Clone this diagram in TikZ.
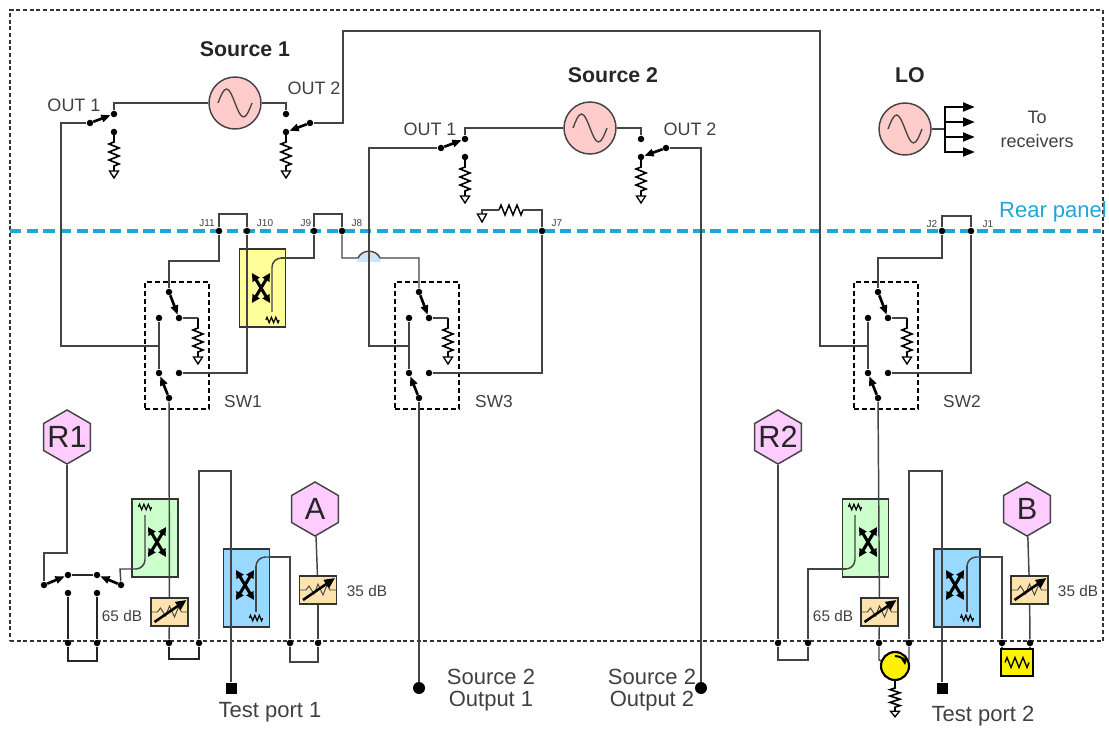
\documentclass[tikz,border=0pt]{standalone}
\usepackage{fontspec}
\setmainfont{Liberation Sans}
\usetikzlibrary{arrows.meta,shapes.geometric}
\def\px{0.75pt}
\definecolor{wirecol}{HTML}{444444}
\definecolor{txtcol}{HTML}{404040}
\definecolor{rearcol}{HTML}{1EA7D8}
\definecolor{srccol}{HTML}{FFCCCC}
\definecolor{hexcol}{HTML}{FFCCFF}
\definecolor{grncol}{HTML}{CCFFCC}
\definecolor{blucol}{HTML}{99D9FF}
\definecolor{yelcol}{HTML}{FFFF99}
\definecolor{attcol}{HTML}{FFE3AE}
\definecolor{hopcol}{HTML}{CFE4F8}
\tikzset{
  wire/.style={draw=wirecol,line width=1.1pt},
  heavy/.style={draw=black!85,line width=1.6pt},
  arm/.style={draw=black,line width=2pt,-{Triangle[length=7pt,width=5.5pt]}},
  feed/.style={draw=black,line width=2pt,-{Triangle[length=9pt,width=6.5pt]}},
  jdot/.style={circle,fill=black,inner sep=0pt,minimum size=6.5*\px},
  bigdot/.style={circle,fill=black,inner sep=0pt,minimum size=12*\px},
  portsq/.style={rectangle,fill=black,inner sep=0pt,minimum size=11*\px},
  srcnode/.style={circle,draw=wirecol,line width=1.1pt,fill=srccol,minimum size=52*\px,inner sep=0pt},
  hexnode/.style={regular polygon,regular polygon sides=6,shape border rotate=30,draw=wirecol,line width=1.1pt,fill=hexcol,
    minimum size=54*\px,inner sep=0pt},
  hextxt/.style={text=black!85,font=\fontsize{23}{26}\selectfont,inner sep=0pt},
  coupler/.style={rectangle,draw=black!80,line width=1.1pt,fill=#1,minimum width=46*\px,minimum height=78*\px,inner sep=0pt},
  attbox/.style={rectangle,draw=black!80,line width=1pt,fill=attcol,minimum width=37*\px,minimum height=28*\px,inner sep=0pt},
  swbox/.style={rectangle,draw=black,line width=1.6pt,dash pattern=on 4pt off 2pt,minimum width=64*\px,minimum height=127*\px,inner sep=0pt},
  lbl/.style={text=txtcol,font=\fontsize{13.5}{16}\selectfont,align=center,inner sep=0pt},
  small/.style={text=txtcol,font=\fontsize{11.5}{14}\selectfont,inner sep=0pt},
  jlbl/.style={text=txtcol,font=\fontsize{7.5}{9}\selectfont,inner sep=0pt},
  big/.style={text=txtcol,font=\fontsize{16.5}{16.5}\selectfont,align=center,inner sep=0pt},
  head/.style={text=black!85,font=\bfseries\fontsize{16}{19}\selectfont,inner sep=0pt},
  zig/.pic={\draw (-12,0) -- (-10,-5) -- (-6,5) -- (-2,-5) -- (2,5) -- (6,-5) -- (10,5) -- (12,0);},
  resgnd/.pic={\draw[black,line width=1.2pt] (0,0) -- (0,10) -- (-5,12) -- (5,16) -- (-5,20) -- (5,24) -- (-5,28) -- (5,32) -- (0,34) -- (0,39);
    \draw[black,line width=1pt,fill=white] (-4.5,39) -- (4.5,39) -- (0,46) -- cycle;},
  sinew/.pic={\draw[wirecol,line width=1pt] (-17,0) sin (-8.5,-14) cos (0,0) sin (8.5,14) cos (17,0);},
  xcross/.pic={\draw[black,line width=2.3pt,{Triangle[length=6pt,width=6pt]}-{Triangle[length=6pt,width=6pt]}] (-9,-15) -- (9,15);
    \draw[black,line width=2.3pt,{Triangle[length=6pt,width=6pt]}-{Triangle[length=6pt,width=6pt]}] (9,-15) -- (-9,15);},
  attsym/.pic={\draw[wirecol,line width=0.7pt] (-18,0) -- (-12,0) -- (-9,-4) -- (-4,4) -- (0,-6) -- (5,5) -- (9,-5) -- (12,0) -- (18,0);
    \draw[black,line width=1.9pt,-{Triangle[length=8pt,width=7pt]}] (-15,10) -- (17,-12);},
}
\begin{document}
\begin{tikzpicture}[x=0.75pt,y=-0.75pt]
  \useasboundingbox (0,0) rectangle (1109,730);
  \node[draw=black!80,line width=1.2pt,dash pattern=on 3pt off 2pt,minimum width=1093*\px,minimum height=631*\px,inner sep=0pt] (frame) at (556.5,325.5) {};
  % rear panel
  \coordinate (rearl) at (10,231);
  \coordinate (rearr) at (1101,231);
  \draw[draw=rearcol,line width=2.4pt,dash pattern=on 8.5pt off 4pt] (rearl) -- (rearr);
  \node[big,text=rearcol] (reartxt) at (1053,212) {Rear panel};
  % couplers and other boxes
  \node[coupler=yelcol] (cpy) at (262.5,288) {};
  \node[coupler=grncol] (cpg1) at (155,538) {};
  \node[coupler=grncol] (cpg2) at (865.5,538) {};
  \node[coupler=blucol] (cpb1) at (246.5,588) {};
  \node[coupler=blucol] (cpb2) at (957,588) {};
  \pic at (261,288) {xcross};
  \pic at (157,542) {xcross};
  \pic at (868,542) {xcross};
  \pic at (245,585) {xcross};
  \pic at (955,585) {xcross};
  \pic[scale=0.55,line width=0.9pt] at (272.5,320) {zig};
  \pic[scale=0.55,line width=0.9pt] at (145,507) {zig};
  \pic[scale=0.55,line width=0.9pt] at (855,507) {zig};
  \pic[scale=0.55,line width=0.9pt] at (256,618) {zig};
  \pic[scale=0.55,line width=0.9pt] at (967,618) {zig};
  \node[attbox] (att1) at (169.5,612) {};
  \node[attbox] (att2) at (318,590) {};
  \node[attbox] (att3) at (879.5,612) {};
  \node[attbox] (att4) at (1029.5,590) {};
  \foreach \n in {1,2,3,4} \pic at (att\n) {attsym};
  \node[small] (db1) at (122,616) {65 dB};
  \node[small] (db2) at (367,591) {35 dB};
  \node[small] (db3) at (833,616) {65 dB};
  \node[small] (db4) at (1078,591) {35 dB};
  % sources
  \node[srcnode] (src1) at (235,103) {};
  \node[srcnode] (src2) at (590,128) {};
  \node[srcnode] (srclo) at (905,129) {};
  \foreach \n in {src1,src2,srclo} \pic at (\n) {sinew};
  \node[head] (src1txt) at (245,49) {Source 1};
  \node[head] (src2txt) at (613,75) {Source 2};
  \node[head] (lotxt) at (910,75) {LO};
  \node[lbl] (out1a) at (74,105) {OUT 1};
  \node[lbl] (out2a) at (314,88) {OUT 2};
  \node[lbl] (out1b) at (430,129) {OUT 1};
  \node[lbl] (out2b) at (690,129) {OUT 2};
  \node[lbl] (totxt) at (1037,129.5) {To\\[1.5pt]receivers};
  % source switches
  \foreach \n/\x/\y in {a/114/114,b/114/132,c/90/123,d/286/114,e/286/132,f/310/123,g/465/139,h/465/157,i/441/148,k/641/139,l/641/157,m/666/148}
    \node[jdot] (o\n) at (\x,\y) {};
  \foreach \n in {b,e,h,l} \pic at (o\n) {resgnd};
  \draw[arm] (oc) -- (oa);
  \draw[arm] (of) -- (oe);
  \draw[arm] (oi) -- (og);
  \draw[arm] (om) -- (ol);
  \draw[wire] (src1) -| (oa);
  \draw[wire] (src1) -| (od);
  \draw[wire] (src2) -| (og);
  \draw[wire] (src2) -| (ok);
  % switch boxes
  \foreach \k/\d in {1/0,3/250,2/709}{
    \node[swbox] (sw\k) at (177+\d,345.5) {};
    \node[jdot] (t\k) at (169+\d,292) {};
    \node[jdot] (u\k) at (179+\d,318) {};
    \node[jdot] (v\k) at (159+\d,318) {};
    \node[jdot] (w\k) at (159+\d,373) {};
    \node[jdot] (y\k) at (179+\d,373) {};
    \node[jdot] (z\k) at (169+\d,398) {};
    \coordinate (r\k) at (198+\d,318);
    \coordinate (n\k) at (159+\d,346);
    \pic at (r\k) {resgnd};
    \draw[arm] (t\k) -- (u\k);
    \draw[arm] (z\k) -- (w\k);
    \draw[wire] (u\k) -- (r\k);
    \draw[wire] (v\k) -- (w\k);
  }
  \node[lbl,font=\fontsize{13}{16}\selectfont] (sw1txt) at (243,402) {SW1};
  \node[lbl,font=\fontsize{13}{16}\selectfont] (sw3txt) at (494,402) {SW3};
  \node[lbl,font=\fontsize{13}{16}\selectfont] (sw2txt) at (962,402) {SW2};
  % rear panel jacks
  \foreach \n/\x in {11/219,10/247,9/314,8/342,7/542,2/942,1/971}
    \node[jdot] (j\n) at (\x,231) {};
  \node[jlbl] (j11txt) at (207,223) {J11};
  \node[jlbl] (j10txt) at (265,223) {J10};
  \node[jlbl] (j9txt) at (306,223) {J9};
  \node[jlbl] (j8txt) at (357,223) {J8};
  \node[jlbl] (j7txt) at (557,223) {J7};
  \node[jlbl] (j2txt) at (932,224) {J2};
  \node[jlbl] (j1txt) at (988,224) {J1};
  \draw[wire] (j11) -- (219,214) -- (247,214) -- (j10);
  \draw[wire] (j9) -- (314,214) -- (342,214) -- (j8);
  \draw[wire] (j2) -- (942,216) -- (971,216) -- (j1);
  \draw[wire] (j11) -- (219,261) -| (t1);
  \draw[wire] (j10) |- (y1);
  \draw[wire] (j2) -- (942,258) -| (t2);
  \draw[wire] (j1) |- (y2);
  \draw[wire] (j7) |- (y3);
  % hop of J8 over the source 2 line
  \coordinate (hopl) at (358,258);
  \coordinate (hopr) at (380,258);
  \fill[hopcol] (357,262) .. controls (361,249) and (376,249) .. (381,262) -- cycle;
  \draw[wire] (j8) -- (342,258) -- (hopl) .. controls (362,249) and (376,249) .. (hopr) -| (t3);
  % J7 load
  \coordinate (r7a) at (523,210);
  \coordinate (r7b) at (499,210);
  \coordinate (r7c) at (482,214);
  \pic[black,line width=1.1pt] at (511,210) {zig};
  \draw[wire] (j7) |- (r7a);
  \draw[wire] (r7b) -| (r7c);
  \draw[black,line width=1pt,fill=white] (r7c) ++(-4.5,0) -- ++(9,0) -- ++(-4.5,8) -- cycle;
  % source outputs to the switches
  \node[bigdot] (s2o1) at (419,688) {};
  \node[bigdot] (s2o2) at (701,688) {};
  \draw[wire] (oc) -- (61,123) -- (61,346) -- (n1);
  \draw[wire] (of) -- (343,123) -- (343,31) -- (820,31) -- (820,346) -- (n2);
  \draw[wire] (oi) -- (369,148) -- (369,346) -- (n3);
  \draw[wire] (om) -| (s2o2);
  \draw[wire] (z3) -- (s2o1);
  \node[big] (s2o1txt) at (491,690) {Source 2\\Output 1};
  \node[big] (s2o2txt) at (652,690) {Source 2\\Output 2};
  % LO feed
  \coordinate (bus) at (945,129);
  \draw[wire,line width=1.2pt] (srclo) -- (bus);
  \draw[draw=black,line width=2pt] (945,106) -- (945,153);
  \foreach \a in {107,122,137,152}{
    \coordinate (to\a) at (975,\a);
    \draw[feed] (bus |- to\a) -- (to\a);
  }
  % coupled lines
  \draw[wire] (j9) -- (314,258) -- (281,258);
  \draw[wire,rounded corners=7] (281,258) -- (272,258) -- (272,312);
  \node[hexnode] (hr1) at (67,437) {};
  \node[hexnode] (hr2) at (778,437) {};
  \node[hexnode] (ha) at (315,509) {};
  \node[hexnode] (hb) at (1027,509) {};
  \node[hextxt] (hr1txt) at (67,437) {R1};
  \node[hextxt] (hr2txt) at (778,437) {R2};
  \node[hextxt] (hatxt) at (315,509) {A};
  \node[hextxt] (hbtxt) at (1027,509) {B};
  % port 1 side
  \foreach \n/\x/\y in {p1/44/585,p2/68/575,p3/97/575,p4/121/585,q1/68/593,q2/97/593,q3/68/643,q4/97/643,d1/169/643,d2/199/643,d3/290/643,d4/318/643}
    \node[jdot] (\n) at (\x,\y) {};
  \node[portsq] (port1) at (231,688) {};
  \draw[wire] (hr1) -- (67,553) -- (44,553) -- (p1);
  \draw[arm] (p1) -- (p2);
  \draw[arm] (p4) -- (p3);
  \draw[heavy] (p2) -- (p3);
  \draw[heavy] (q1) -- (q3) -- (68,661) -- (97,661) -- (q4) -- (q2);
  \draw[wire] (p4) -- (120,569) -- (135,569);
  \draw[wire,rounded corners=7] (135,569) -- (145,569) -- (145,515);
  \draw[wire] (z1) -- (att1);
  \draw[wire] (att1) -- (d1);
  \draw[heavy] (d1) -- (169,659) -- (199,659) -- (d2);
  \draw[wire] (d2) -- (199,471) -- (231,471) -- (port1);
  \draw[wire] (256,612) -- (256,566);
  \draw[wire,rounded corners=7] (256,566) -- (256,557) -- (270,557);
  \draw[wire] (270,557) -- (290,557) -- (d3);
  \draw[wire] (d3) -- (290,662) -- (318,662) -- (d4);
  \draw[wire] (d4) -- (att2);
  \draw[wire] (att2) -- (ha);
  \node[big] (port1txt) at (270,712) {Test port 1};
  % port 2 side
  \foreach \n/\x/\y in {e1/778/643,e2/808/643,e3/879/643,e4/909/643,e5/1002/643,e6/1030/643}
    \node[jdot] (\n) at (\x,\y) {};
  \node[portsq] (port2) at (942,688) {};
  \draw[wire] (hr2) -- (e1);
  \draw[wire] (e1) -- (778,660) -- (808,660) -- (e2);
  \draw[wire] (e2) -- (808,569) -- (846,569);
  \draw[wire,rounded corners=7] (846,569) -- (855,569) -- (855,515);
  \draw[wire] (z2) -- (att3);
  \draw[wire] (att3) -- (e3);
  \draw[wire] (e4) -- (909,471) -- (942,471) -- (port2);
  \draw[wire] (967,612) -- (967,566);
  \draw[wire,rounded corners=7] (967,566) -- (967,557) -- (981,557);
  \draw[wire] (981,557) -- (1002,557) -- (e5);
  \draw[wire] (e6) -- (att4);
  \draw[wire] (att4) -- (hb);
  % circulator and load
  \node[circle,draw=black,line width=1.6pt,fill=yellow,minimum size=28*\px,inner sep=0pt] (circ) at (895,666) {};
  \draw[wire] (e3) -- (879,660) -- (circ);
  \draw[wire] (e4) -- (909,660) -- (circ);
  \draw[black,line width=1.5pt,-{Triangle[length=5pt,width=4.5pt]}] (895,656) arc (-90:-5:10);
  \pic[yscale=0.8] at (895,680) {resgnd};
  \node[rectangle,draw=black,line width=1.6pt,fill=yellow,minimum width=32*\px,minimum height=27*\px,inner sep=0pt] (load) at (1017,662.5) {};
  \pic[black,line width=1pt] at (load) {zig};
  \draw[wire] (e5) -- (e5 |- load.north);
  \draw[wire] (e6) -- (e6 |- load.north);
  \node[big] (port2txt) at (983,716) {Test port 2};
\end{tikzpicture}
\end{document}
